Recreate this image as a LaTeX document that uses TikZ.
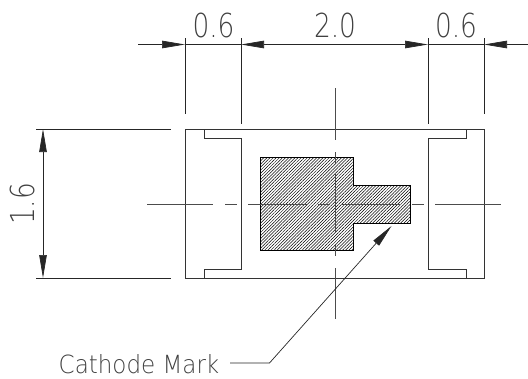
\documentclass[tikz,border=0pt]{standalone}
\usepackage{fontspec}
\setmainfont{DejaVu Sans}[UprightFont=* ExtraLight]
\usetikzlibrary{arrows.meta,patterns.meta}
\tikzset{
	part line/.style={line width=0.8pt,color=black!80},
	thin line/.style={line width=0.7pt,color=black!85},
	center line/.style={line width=0.8pt,color=black!70},
	dim arrow/.style={thin line,-{Triangle[length=23pt,width=7.5pt]}},
	dim both/.style={thin line,{Triangle[length=23pt,width=7.5pt]}-{Triangle[length=23pt,width=7.5pt]}},
	dim text/.style={inner sep=0pt,font=\fontsize{33}{33}\selectfont,color=black!75,xscale=0.8,transform shape}
}
\begin{document}
\begin{tikzpicture}[x=1pt,y=-1pt]
	\useasboundingbox (0,0) rectangle (528,378);
	
	% outer body and end pads
	\draw[part line] (185,129) rectangle (484,278);
	\draw[part line] (204,129) -- (204,138) -- (241,138) -- (241,269) -- (204,269) -- (204,278);
	\draw[part line] (466,129) -- (466,138) -- (428,138) -- (428,269) -- (466,269) -- (466,278);
	
	% cathode mark
	\draw[line width=1pt,pattern={Lines[angle=45,distance=2.2pt,line width=0.5pt]}]
		(260,157) -- (353,157) -- (353,185) -- (410,185) -- (410,223) -- (353,223) -- (353,250) -- (260,250) -- cycle;
	
	% center lines
	\draw[center line] (147,204) -- (213,204);
	\draw[center line] (225,204) -- (237,204);
	\draw[center line] (248,204) -- (307,204);
	\draw[center line] (318,204) -- (330,204);
	\draw[center line] (342,204) -- (400,204);
	\draw[center line] (412,204) -- (424,204);
	\draw[center line] (435,204) -- (501,204);
	\draw[center line] (335,88) -- (335,140);
	\draw[center line] (335,152) -- (335,163);
	\draw[center line] (335,174) -- (335,233);
	\draw[center line] (335,245) -- (335,256);
	\draw[center line] (335,268) -- (335,319);
	
	% extension lines
	\draw[thin line] (185,38) -- (185,114);
	\draw[thin line] (241,38) -- (241,124);
	\draw[thin line] (428,38) -- (428,124);
	\draw[thin line] (484,38) -- (484,114);
	\draw[thin line] (36,129) -- (171,129);
	\draw[thin line] (36,278) -- (171,278);
	
	% dimension lines
	\coordinate (wl) at (138,44.5);
	\coordinate (w1) at (185,44.5);
	\coordinate (w2) at (241,44.5);
	\coordinate (w3) at (428,44.5);
	\coordinate (w4) at (484,44.5);
	\coordinate (wr) at (528,44.5);
	\coordinate (ht) at (43,129);
	\coordinate (hb) at (43,278);
	\draw[dim arrow] (wl) -- (w1);
	\draw[thin line] (w1) -- (w2);
	\draw[dim both] (w2) -- (w3);
	\draw[thin line] (w3) -- (w4);
	\draw[dim arrow] (wr) -- (w4);
	\draw[dim both] (ht) -- (hb);
	
	\node[dim text] (d1) at (213.5,25) {0.6};
	\node[dim text] (d2) at (335,25) {2.0};
	\node[dim text] (d3) at (456,25) {0.6};
	\node[rotate=90,dim text] (d4) at (22.5,204) {1.6};
	
	% leader
	\node[inner sep=0pt,font=\fontsize{25}{25}\selectfont,color=black!75,xscale=0.92,transform shape] (mark) at (139,364) {Cathode Mark};
	\coordinate (l1) at (230,363);
	\coordinate (l2) at (269.5,363);
	\coordinate (l3) at (391.5,226);
	\draw[dim arrow] (l1) -- (l2) -- (l3);
\end{tikzpicture}
\end{document}
